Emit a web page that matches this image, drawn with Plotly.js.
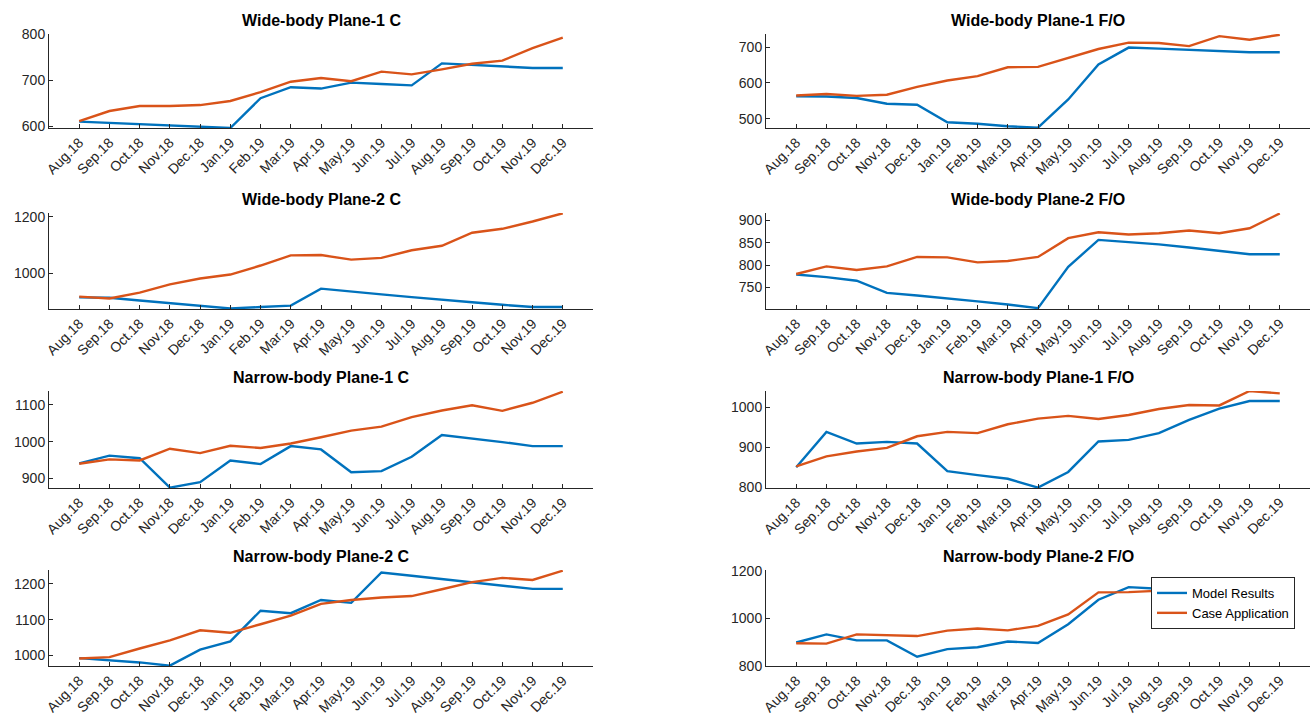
<!DOCTYPE html>
<html>
<head>
<meta charset="utf-8">
<script src="https://cdn.plot.ly/plotly-3.0.1.min.js"></script>
<style>
html,body{margin:0;padding:0;background:#fff;}
#chart{width:1312px;height:723px;}
</style>
</head>
<body>
<div id="chart"></div>
<script>
const months = ["Aug.18","Sep.18","Oct.18","Nov.18","Dec.18","Jan.19","Feb.19","Mar.19","Apr.19","May.19","Jun.19","Jul.19","Aug.19","Sep.19","Oct.19","Nov.19","Dec.19"];

const titles = ["Wide-body Plane-1 C","Wide-body Plane-1 F/O","Wide-body Plane-2 C","Wide-body Plane-2 F/O","Narrow-body Plane-1 C","Narrow-body Plane-1 F/O","Narrow-body Plane-2 C","Narrow-body Plane-2 F/O"];
const seriesNames = ["Model Results","Case Application"];

const wb1C_model = [610,607,604,601,599,596,661,685,682,695,692,689,737,734,731,727,727];
const wb1C_case  = [611,633,644,644,646,655,674,697,705,698,719,713,724,736,743,770,793];

const wb1FO_model = [563,562,558,542,539,490,486,479,475,554,652,699,696,693,690,686,686];
const wb1FO_case  = [565,569,564,567,589,607,619,644,645,670,695,713,712,703,731,721,735];

const wb2C_model = [915,914,904,894,885,876,881,886,946,935,926,916,908,898,889,881,881];
const wb2C_case  = [918,911,932,961,982,996,1028,1064,1065,1049,1055,1082,1098,1144,1158,1184,1213];

const wb2FO_model = [779,773,765,738,732,726,719,712,704,796,856,851,846,839,832,824,824];
const wb2FO_case  = [780,797,789,797,818,817,806,809,818,860,873,868,871,877,871,882,915];

const nb1C_model = [941,962,955,875,890,949,939,988,979,917,920,959,1018,1009,999,988,988];
const nb1C_case  = [940,952,949,981,969,989,983,995,1012,1030,1041,1067,1085,1099,1084,1106,1136];

const nb1FO_model = [850,938,909,913,909,840,830,821,799,838,914,918,935,968,996,1015,1015];
const nb1FO_case  = [852,877,889,898,927,938,935,957,971,978,970,980,995,1005,1004,1040,1034];

const nb2C_model = [992,987,980,971,1016,1039,1125,1118,1155,1147,1232,1223,1214,1206,1196,1186,1186];
const nb2C_case  = [991,995,1019,1042,1070,1063,1087,1111,1144,1155,1162,1166,1185,1205,1217,1211,1237];

const nb2FO_model = [899,933,908,908,839,871,879,903,897,976,1079,1132,1125,1122,1120,1118,1118];
const nb2FO_case  = [896,894,933,928,926,949,958,950,969,1017,1110,1111,1117,1122,1128,1134,1140];

const yRanges = [[596,801],[474,737],[874,1214],[702,916],[874,1138],[798,1040],[970,1239],[800,1204]];
const yTicks  = [[600,700,800],[500,600,700],[1000,1200],[750,800,850,900],[900,1000,1100],[800,900,1000],[1000,1100,1200],[800,1000,1200]];

const panels = [
  [wb1C_model, wb1C_case],[wb1FO_model, wb1FO_case],
  [wb2C_model, wb2C_case],[wb2FO_model, wb2FO_case],
  [nb1C_model, nb1C_case],[nb1FO_model, nb1FO_case],
  [nb2C_model, nb2C_case],[nb2FO_model, nb2FO_case]
];

const W = 1312, H = 723;
const colX = [[49,593],[766,1310]];
const rowY = [[34,128],[213,309],[391,488],[570,666]];
const colors = ["#0072BD","#D95319"];
const axisColor = "#262626";
const font = "Liberation Sans, Arial, sans-serif";

const data = [];
const layout = {
  width: W, height: H,
  margin: {l:0,r:0,t:0,b:0},
  paper_bgcolor: "#fff", plot_bgcolor: "#fff",
  font: {family: font, color: axisColor},
  showlegend: true,
  legend: {
    x: 1151/W, y: 1 - 577/H, xanchor: "left", yanchor: "top",
    bgcolor: "#fff", bordercolor: axisColor, borderwidth: 1,
    font: {size: 13, color: "#000", family: font},
    itemwidth: 30, tracegroupgap: 0
  },
  annotations: []
};

panels.forEach((p, i) => {
  const r = Math.floor(i/2), c = i % 2;
  const n = i + 1;
  const xa = n === 1 ? "x" : "x" + n;
  const ya = n === 1 ? "y" : "y" + n;
  const xd = [colX[c][0]/W, colX[c][1]/W];
  const yd = [1 - rowY[r][1]/H, 1 - rowY[r][0]/H];
  p.forEach((vals, k) => {
    data.push({
      type: "scatter", mode: "lines",
      x: months, y: vals, xaxis: xa, yaxis: ya,
      name: seriesNames[k],
      line: {color: colors[k], width: 2.4},
      showlegend: n === 8,
      cliponaxis: false
    });
  });
  layout["xaxis" + (n === 1 ? "" : n)] = {
    domain: xd, anchor: ya, type: "category",
    range: [-1, 17], showgrid: false, zeroline: false,
    showline: true, linecolor: axisColor, linewidth: 1,
    ticks: "inside", ticklen: 4, tickcolor: axisColor,
    tickangle: -45, tickfont: {size: 14, color: axisColor, family: font},
    fixedrange: true
  };
  layout["yaxis" + (n === 1 ? "" : n)] = {
    domain: yd, anchor: xa,
    range: yRanges[i], tickvals: yTicks[i],
    showgrid: false, zeroline: false,
    showline: true, linecolor: axisColor, linewidth: 1,
    ticks: "inside", ticklen: 4, tickcolor: axisColor,
    tickfont: {size: 14, color: axisColor, family: font},
    fixedrange: true
  };
  layout.annotations.push({
    text: "<b>" + titles[i] + "</b>",
    xref: "paper", yref: "paper",
    x: (xd[0] + xd[1]) / 2, y: yd[1],
    xanchor: "center", yanchor: "bottom", yshift: 3,
    showarrow: false,
    font: {size: 16, color: "#000", family: font}
  });
});

Plotly.newPlot("chart", data, layout, {displayModeBar: false, staticPlot: true});
</script>
</body>
</html>
